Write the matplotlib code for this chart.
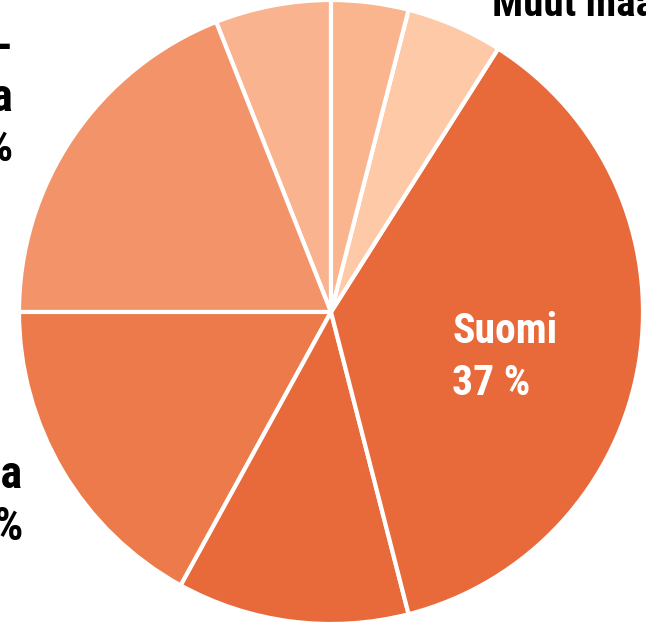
import matplotlib
matplotlib.use("Agg")
import matplotlib.pyplot as plt

# Shares (%) counter-clockwise from 12 o'clock
categories = ["Muut", "Pohjois-Amerikka", "Eurooppa", "Aasia", "Suomi", "Muut maat", "Venäjä"]
shares = [6, 19, 17, 12, 37, 5, 4]
colors = ["#F9B38E", "#F39369", "#EC7A4A", "#E8693A", "#E8693A", "#FDC9A7", "#FAB58F"]

# Visible (cropped) labels
label_texts = ["Pohjois-\nAmerikka\n19 %", "Eurooppa\n17 %", "Suomi\n37 %", "Muut maat 5 %"]
label_colors = ["black", "black", "white", "black"]

FONT = "Roboto Condensed"


def main():
    W, H = 646, 623
    fig = plt.figure(figsize=(W / 100, H / 100), dpi=100)
    ax = fig.add_axes([0, 0, 1, 1])

    # y runs downwards, so start at -90 and go clockwise in data = anticlockwise on screen
    ax.pie(shares, colors=colors, startangle=-90, counterclock=False,
           center=(331, 312), radius=312,
           wedgeprops=dict(edgecolor="white", linewidth=3))
    ax.set_xlim(0, W)
    ax.set_ylim(H, 0)
    ax.set_aspect("equal")
    ax.axis("off")

    # (x, first baseline y, ha, fontsize, line step)
    label_pos = [(13, 61, "right", 33, 50),
                 (23, 488, "right", 33, 52),
                 (452, 343, "left", 30, 52),
                 (492, 16, "left", 29.5, 52)]

    for text, col, (x, y, ha, fs, step) in zip(label_texts, label_colors, label_pos):
        for i, line in enumerate(text.split("\n")):
            ax.text(x, y + i * step, line, ha=ha, va="baseline", color=col,
                    fontsize=fs, fontweight="bold", family=FONT, clip_on=False)

    fig.savefig("out.png", dpi=100)
    plt.close(fig)


if __name__ == "__main__":
    main()
